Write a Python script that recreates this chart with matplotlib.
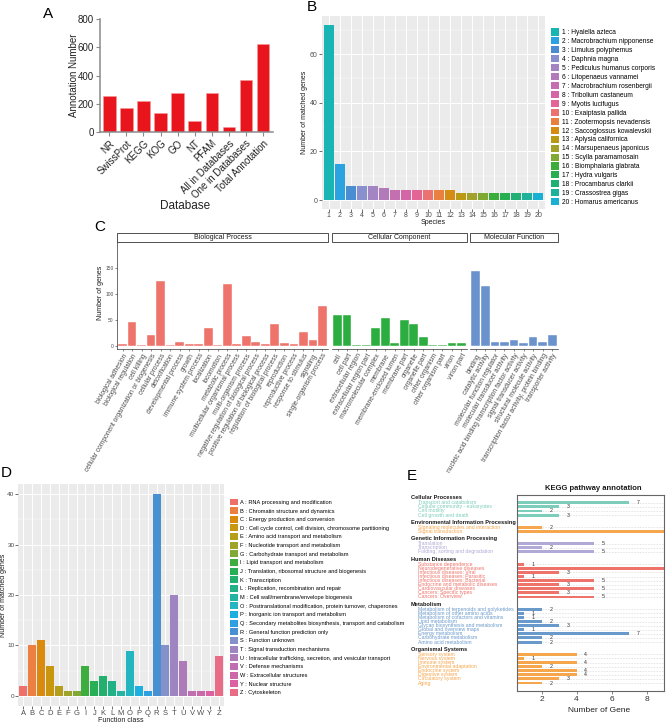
import numpy as np
import matplotlib
matplotlib.use('Agg')
import matplotlib.pyplot as plt
import matplotlib.transforms as mtransforms
from matplotlib.patches import Patch, Rectangle

plt.rcParams['font.family'] = ['Liberation Sans', 'DejaVu Sans']

W, H = 669, 724

# =============================================================================
# DATA
# =============================================================================

# A - annotation per database
db_names = ['NR', 'SwissProt', 'KEGG', 'KOG', 'GO', 'NT', 'PFAM',
            'All in Databases', 'One in Databases', 'Total Annotation']
db_counts = [255, 172, 217, 137, 276, 77, 276, 37, 368, 622]

# B - species distribution
species_names = ['Hyalella azteca', 'Macrobrachium nipponense', 'Limulus polyphemus',
                 'Daphnia magna', 'Pediculus humanus corporis', 'Litopenaeus vannamei',
                 'Macrobrachium rosenbergii', 'Tribolium castaneum', 'Myotis lucifugus',
                 'Exaiptasia pallida', 'Zootermopsis nevadensis', 'Saccoglossus kowalevskii',
                 'Aplysia californica', 'Marsupenaeus japonicus', 'Scylla paramamosain',
                 'Biomphalaria glabrata', 'Hydra vulgaris', 'Procambarus clarkii',
                 'Crassostrea gigas', 'Homarus americanus']
species_counts = [72, 15, 6, 6, 6, 5, 4, 4, 4, 4, 4, 4, 3, 3, 3, 3, 3, 3, 3, 3]
species_colors = ['#19B5B5', '#2BA3E0', '#4A8DD0', '#8A8FCD', '#A485C3', '#B27AB9',
                  '#C46FB0', '#D466A8', '#E26595', '#EC7272', '#E98040', '#D58C12',
                  '#BA9A15', '#A2A12A', '#80A934', '#3CAD3B', '#27AE50', '#20AF74',
                  '#1EB29A', '#18B1D4']

# C - GO classification
go_bp_terms = ['biological adhesion', 'biological regulation', 'cell killing',
               'cellular component organization or biogenesis', 'cellular process',
               'detoxification', 'developmental process', 'growth', 'immune system process',
               'localization', 'locomotion', 'metabolic process',
               'multicellular organismal process', 'multi-organism process',
               'negative regulation of biological process',
               'positive regulation of biological process', 'regulation of biological process',
               'reproduction', 'reproductive process', 'response to stimulus', 'signaling',
               'single-organism process']
go_bp_counts = [4, 46, 1, 21, 125, 1, 8, 3, 3, 34, 1, 120, 4, 19, 7, 4, 43, 5, 3, 27, 12, 77]

go_cc_terms = ['cell', 'cell part', 'extracellular region', 'extracellular region part',
               'macromolecular complex', 'membrane', 'membrane-enclosed lumen', 'membrane part',
               'organelle', 'organelle part', 'other organism', 'other organism part',
               'virion', 'virion part']
go_cc_counts = [60, 60, 2, 2, 34, 54, 5, 50, 43, 18, 1, 1, 6, 6]

go_mf_terms = ['binding', 'catalytic activity', 'molecular function regulator',
               'molecular transducer activity',
               'nucleic acid binding transcription factor activity',
               'signal transducer activity', 'structural molecule activity',
               'transcription factor activity, protein binding', 'transporter activity']
go_mf_counts = [144, 115, 8, 8, 12, 6, 17, 7, 21]

# D - KOG function classes
cog_codes = ['A', 'B', 'C', 'D', 'E', 'F', 'G', 'I', 'J', 'K', 'L', 'M',
             'O', 'P', 'Q', 'R', 'S', 'T', 'U', 'V', 'W', 'Y', 'Z']
cog_desc = ['RNA processing and modification', 'Chromatin structure and dynamics',
            'Energy production and conversion',
            'Cell cycle control, cell division, chromosome partitioning',
            'Amino acid transport and metabolism', 'Nucleotide transport and metabolism',
            'Carbohydrate transport and metabolism', 'Lipid transport and metabolism',
            'Translation, ribosomal structure and biogenesis', 'Transcription',
            'Replication, recombination and repair', 'Cell wall/membrane/envelope biogenesis',
            'Posttranslational modification, protein turnover, chaperones',
            'Inorganic ion transport and metabolism',
            'Secondary metabolites biosynthesis, transport and catabolism',
            'General function prediction only', 'Function unknown',
            'Signal transduction mechanisms',
            'Intracellular trafficking, secretion, and vesicular transport',
            'Defense mechanisms', 'Extracellular structures', 'Nuclear structure',
            'Cytoskeleton']
cog_counts = [2, 10, 11, 6, 2, 1, 1, 6, 3, 4, 3, 1, 9, 2, 1, 40, 10, 20, 7, 1, 1, 1, 8]
cog_colors = ['#EF6F6A', '#EC8043', '#DB8A10', '#C9960F', '#B59E1C', '#9EA32A', '#82A935',
              '#3CAD3E', '#28AE55', '#23AF6E', '#22B187', '#25B3A2', '#23B6C0', '#1CAFE0',
              '#2EA0E2', '#4790D2', '#8591CB', '#9E85C2', '#AE7BB9', '#C070B1', '#CC68A8',
              '#DB62A0', '#E96C86']

# E - KEGG pathways
kegg_groups = ['Cellular Processes', 'Environmental Information Processing',
               'Genetic Information Processing', 'Human Diseases', 'Metabolism',
               'Organismal Systems']
kegg_terms = [
    ['Transport and catabolism', 'Cellular community - eukaryotes', 'Cell motility',
     'Cell growth and death'],
    ['Signaling molecules and interaction', 'Signal transduction'],
    ['Translation', 'Transcription', 'Folding, sorting and degradation'],
    ['Substance dependence', 'Neurodegenerative diseases', 'Infectious diseases: Viral',
     'Infectious diseases: Parasitic', 'Infectious diseases: Bacterial',
     'Endocrine and metabolic diseases', 'Cardiovascular diseases',
     'Cancers: Specific types', 'Cancers: Overview'],
    ['Metabolism of terpenoids and polyketides', 'Metabolism of other amino acids',
     'Metabolism of cofactors and vitamins', 'Lipid metabolism',
     'Glycan biosynthesis and metabolism', 'Global and overview maps',
     'Energy metabolism', 'Carbohydrate metabolism', 'Amino acid metabolism'],
    ['Sensory system', 'Nervous system', 'Immune system', 'Environmental adaptation',
     'Endocrine system', 'Digestive system', 'Circulatory system', 'Aging'],
]
kegg_counts = [
    [7, 3, 2, 3],
    [2, 9],
    [5, 2, 5],
    [1, 9, 3, 1, 5, 3, 5, 3, 5],
    [2, 1, 1, 2, 3, 1, 7, 2, 2],
    [4, 1, 4, 2, 4, 4, 3, 2],
]
kegg_colors = ['#7CCDB9', '#F6A64C', '#B1A9D6', '#EE736A', '#6A9ACB', '#F6A64C']


# =============================================================================
# HELPERS
# =============================================================================

fig = plt.figure(figsize=(W / 100, H / 100), dpi=100)
fig.patch.set_facecolor('white')


def px_axes(x0, y0, x1, y1):
    """Axes from pixel box (origin at top-left)."""
    return fig.add_axes([x0 / W, 1 - y1 / H, (x1 - x0) / W, (y1 - y0) / H])


def px_text(x, y, s, **kw):
    kw.setdefault('ha', 'center')
    kw.setdefault('va', 'center')
    return fig.text(x / W, 1 - y / H, s, **kw)


def ggplot_panel(ax):
    ax.set_facecolor('#EBEBEB')
    for s in ax.spines.values():
        s.set_visible(False)
    ax.grid(which='major', color='white', linewidth=0.7)
    ax.grid(which='minor', axis='y', color='white', linewidth=0.35)
    ax.set_axisbelow(True)
    ax.tick_params(which='major', length=2, width=0.5, colors='#333333',
                   labelcolor='#4D4D4D', labelsize=5, pad=1)
    ax.tick_params(which='minor', length=0)


# =============================================================================
# A
# =============================================================================
ax = px_axes(100, 19, 273, 132)
x = np.arange(len(db_names))
ax.bar(x, db_counts, width=0.72, color='#E8161C', edgecolor='#F29A9A', linewidth=0.4)
ax.set_xlim(-0.55, len(db_names) - 0.4)
ax.set_ylim(0, 800)
ax.set_yticks([0, 200, 400, 600, 800])
ax.set_xticks(x)
ax.set_xticklabels(db_names, rotation=45, ha='right', rotation_mode='anchor')
for side in ['top', 'right']:
    ax.spines[side].set_visible(False)
for side in ['left', 'bottom']:
    ax.spines[side].set_color('#8A8A8A')
    ax.spines[side].set_linewidth(1.1)
ax.tick_params(colors='#8A8A8A', labelcolor='#222222', labelsize=7, length=3, width=0.8, pad=1.5)
px_text(74, 75, 'Annotation Number', rotation=90, fontsize=7, color='#222222')
px_text(185, 206, 'Database', fontsize=8.5, color='#222222')
px_text(48, 14, 'A', fontsize=11)

# =============================================================================
# B
# =============================================================================
ax = px_axes(322, 16, 545, 209)
ggplot_panel(ax)
xs = np.arange(1, len(species_counts) + 1)
ax.bar(xs, species_counts, width=0.9, color=species_colors, zorder=3)
ax.set_xlim(0.4, len(species_counts) + 0.6)
ax.set_ylim(-3.6, 75.6)
ax.set_yticks([0, 20, 40, 60])
ax.set_yticks([10, 30, 50, 70], minor=True)
ax.set_xticks(xs)
ax.tick_params(axis='x', pad=0.5)
px_text(305, 112, 'Number of matched genes', rotation=90, fontsize=5, color='#1A1A1A')
px_text(433, 222.5, 'Species', fontsize=5, color='#1A1A1A')
px_text(312, 7, 'B', fontsize=11)

handles = [Patch(facecolor=c, edgecolor='none') for c in species_colors]
labels = [f'{i} : {n}' for i, n in enumerate(species_names, start=1)]
fig.legend(handles, labels, loc='upper left', bbox_to_anchor=(551 / W, 1 - 28.5 / H),
           frameon=False, fontsize=4.8, handlelength=1.2, handleheight=1.25,
           handletextpad=0.45, labelspacing=0.175, borderpad=0, borderaxespad=0)

# =============================================================================
# C
# =============================================================================
facets = [
    (go_bp_terms, go_bp_counts, '#EE736B', 'Biological Process', 117, 328),
    (go_cc_terms, go_cc_counts, '#2BAE3F', 'Cellular Component', 332, 467),
    (go_mf_terms, go_mf_counts, '#6A93CD', 'Molecular Function', 470, 558),
]
for i, (terms, counts, color, title, x0, x1) in enumerate(facets):
    ax = px_axes(x0, 242, x1, 349)
    xx = np.arange(len(terms))
    ax.bar(xx, counts, width=0.9, color=color, edgecolor='white', linewidth=0.3)
    ax.set_xlim(-0.6, len(terms) - 0.4)
    ax.set_ylim(-5.8, 200)
    ax.set_xticks(xx)
    ax.set_xticklabels(terms, rotation=60, ha='right', rotation_mode='anchor')
    ax.spines['top'].set_visible(False)
    ax.spines['right'].set_visible(False)
    ax.spines['bottom'].set_color('#333333')
    ax.spines['bottom'].set_linewidth(0.5)
    if i == 0:
        ax.spines['left'].set_color('#333333')
        ax.spines['left'].set_linewidth(0.5)
        ax.set_yticks([0, 50, 100, 150])
    else:
        ax.spines['left'].set_visible(False)
        ax.set_yticks([])
    ax.tick_params(axis='x', length=1.5, width=0.4, colors='#333333',
                   labelcolor='#4D4D4D', labelsize=4.8, pad=1)
    ax.tick_params(axis='y', length=1.5, width=0.4, colors='#333333',
                   labelcolor='#4D4D4D', labelsize=3.5, pad=1)
    strip_h = 9 / 107
    ax.add_patch(Rectangle((0, 1.0), 1, strip_h, transform=ax.transAxes, clip_on=False,
                           facecolor='white', edgecolor='#333333', linewidth=0.6))
    ax.text(0.5, 1 + strip_h / 2, title, transform=ax.transAxes, ha='center',
            va='center', fontsize=5, color='#1A1A1A')
px_text(100, 293, 'Number of genes', rotation=90, fontsize=5, color='#1A1A1A')
px_text(100, 227, 'C', fontsize=11)

# =============================================================================
# D
# =============================================================================
ax = px_axes(18, 484, 224, 706)
ggplot_panel(ax)
xs = np.arange(1, len(cog_codes) + 1)
ax.bar(xs, cog_counts, width=0.9, color=cog_colors, zorder=3)
ax.set_xlim(0.4, len(cog_codes) + 0.6)
ax.set_ylim(-2, 42)
ax.set_yticks([0, 10, 20, 30, 40])
ax.set_yticks([5, 15, 25, 35], minor=True)
ax.set_xticks(xs)
ax.set_xticklabels(cog_codes)
ax.tick_params(axis='x', labelsize=5.5)
ax.tick_params(axis='y', labelsize=4.6, pad=0.5)
px_text(3.5, 595, 'Number of matched genes', rotation=90, fontsize=5, color='#1A1A1A')
px_text(121, 721, 'Function class', fontsize=5, color='#1A1A1A')
px_text(6, 473, 'D', fontsize=11)

handles = [Patch(facecolor=c, edgecolor='none') for c in cog_colors]
labels = [f'{c} : {d}' for c, d in zip(cog_codes, cog_desc)]
fig.legend(handles, labels, loc='upper left', bbox_to_anchor=(229.5 / W, 1 - 498.5 / H),
           frameon=False, fontsize=4.1, handlelength=1.42, handleheight=1.5,
           handletextpad=0.4, labelspacing=0.3, borderpad=0, borderaxespad=0)

# =============================================================================
# E
# =============================================================================
ax = px_axes(517, 495, 664, 691)
trans = mtransforms.blended_transform_factory(fig.transFigure, ax.transData)
x_max = 9.0
pos = 0
for group, terms, counts, color in zip(kegg_groups, kegg_terms, kegg_counts, kegg_colors):
    ys = np.arange(pos, pos + len(terms))
    ax.text(411 / W, pos - 1.2, group, transform=trans, fontsize=4.1, fontweight='bold',
            color='#1A1A1A', va='center', ha='left')
    for y in ys:
        ax.axhline(y, color='#D5D5D5', linewidth=0.4, linestyle=(0, (3, 2)), zorder=0)
    ax.barh(ys, counts, height=0.72, color=color, zorder=2)
    for y, term, n in zip(ys, terms, counts):
        ax.text(418 / W, y, term, transform=trans, fontsize=3.7, color=color,
                va='center', ha='left')
        if n + 0.8 < x_max:
            ax.text(n + 0.45, y, str(n), fontsize=3.8, color='#333333', va='center',
                    ha='left')
    pos += len(terms) + 2
ax.set_xlim(0.6, x_max)
ax.set_ylim(pos - 2 + 0.95, -1.9)
ax.set_xticks([2, 4, 6, 8])
ax.set_yticks([])
for s in ax.spines.values():
    s.set_color('#666666')
    s.set_linewidth(0.8)
ax.tick_params(axis='x', length=2, width=0.5, colors='#555555', labelcolor='#333333',
               labelsize=6, pad=1.5)
px_text(593, 488, 'KEGG pathway annotation', fontsize=5.5, fontweight='bold', color='#1A1A1A')
px_text(599, 711, 'Number of Gene', fontsize=6, color='#222222')
px_text(412, 476, 'E', fontsize=11)

fig.savefig('out.png', dpi=100, facecolor='white')
